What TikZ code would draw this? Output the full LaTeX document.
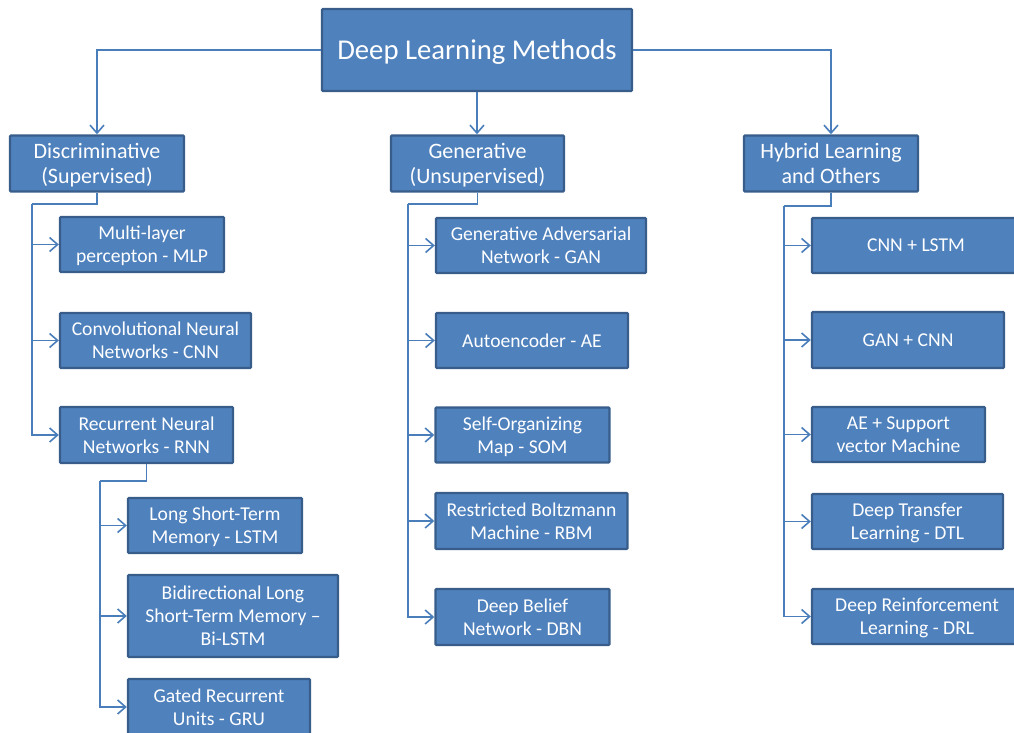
\documentclass[tikz,border=0pt]{standalone}
\usepackage{fontspec}
\setmainfont{Carlito}
\usetikzlibrary{arrows.meta}
\definecolor{boxfill}{HTML}{4F81BD}
\definecolor{boxline}{HTML}{385D8A}
\definecolor{conn}{HTML}{4A7EBB}
\tikzset{
  box/.style={draw=boxline, line width=2.4pt, fill=boxfill, text=white, align=center, inner sep=0pt, rounded corners=1pt, text depth=0pt},
  rootbox/.style={box, font=\fontsize{28.7}{32}\selectfont},
  catbox/.style={box, minimum height=56pt, font=\fontsize{22}{25.5}\selectfont},
  leafbox/.style={box, font=\fontsize{19.6}{23}\selectfont},
  link/.style={draw=conn, line width=1.6pt},
  arrowlink/.style={link, -{Straight Barb[length=8pt, width=14pt, line width=1.6pt]}}
}
\begin{document}
\begin{tikzpicture}[x=1pt, y=-1pt]
\useasboundingbox (0,0) rectangle (1014,733);
\clip (0,0) rectangle (1014,733);

% root
\node[rootbox, minimum width=310pt, minimum height=82pt] (root) at (477,50) {Deep Learning Methods};

% categories
\node[catbox, minimum width=174pt] (disc) at (97,163.5) {Discriminative\\(Supervised)};
\node[catbox, minimum width=173pt] (gen) at (477.5,163.5) {Generative\\(Unsupervised)};
\node[catbox, minimum width=174pt] (hyb) at (831,163.5) {Hybrid Learning\\and Others};

\draw[arrowlink] (root.west) -| (disc.north);
\draw[arrowlink] (root.south) -- (root.south |- gen.north);
\draw[arrowlink] (root.east) -| (hyb.north);

% discriminative children
\node[leafbox, minimum width=164pt, minimum height=55pt] (mlp) at (142,244.5) {Multi-layer\\percepton - MLP};
\node[leafbox, minimum width=191pt, minimum height=55pt] (cnn) at (155.5,340.5) {Convolutional Neural\\Networks - CNN};
\node[leafbox, minimum width=173pt, minimum height=56pt] (rnn) at (146.5,435) {Recurrent Neural\\Networks - RNN};

\coordinate (d0) at (32,204);
\draw[link] (disc.south) |- (d0);
\draw[arrowlink] (d0) |- (mlp.west);
\draw[arrowlink] (d0) |- (cnn.west);
\draw[arrowlink] (d0) |- (rnn.west);

% RNN children
\node[leafbox, minimum width=174pt, minimum height=55pt] (lstm) at (215,525.5) {Long Short-Term\\Memory - LSTM};
\node[leafbox, minimum width=210pt, minimum height=82pt] (bilstm) at (233,616) {Bidirectional Long\\Short-Term Memory –\\Bi-LSTM};
\node[leafbox, minimum width=182pt, minimum height=56pt] (gru) at (219,707) {Gated Recurrent\\Units - GRU};

\coordinate (r0) at (100,481);
\draw[link] (rnn.south) |- (r0);
\draw[arrowlink] (r0) |- (lstm.west);
\draw[arrowlink] (r0) |- (bilstm.west);
\draw[arrowlink] (r0) |- (gru.west);

% generative children
\node[leafbox, minimum width=210pt, minimum height=55pt] (gan) at (541,245.5) {Generative Adversarial\\Network - GAN};
\node[leafbox, minimum width=192pt, minimum height=55pt] (ae) at (532,340.5) {Autoencoder - AE};
\node[leafbox, minimum width=174pt, minimum height=55pt] (som) at (522.5,435) {Self-Organizing\\Map - SOM};
\node[leafbox, minimum width=192pt, minimum height=56pt] (rbm) at (531.5,521) {Restricted Boltzmann\\Machine - RBM};
\node[leafbox, minimum width=174pt, minimum height=56pt] (dbn) at (522.5,617) {Deep Belief\\Network - DBN};

\coordinate (g0) at (408,204);
\draw[link] (gen.south) |- (g0);
\draw[arrowlink] (g0) |- (gan.west);
\draw[arrowlink] (g0) |- (ae.west);
\draw[arrowlink] (g0) |- (som.west);
\draw[arrowlink] (g0) |- (rbm.west);
\draw[arrowlink] (g0) |- (dbn.west);

% hybrid children
\node[leafbox, minimum width=208pt, minimum height=55pt] (cnnlstm) at (916,245.5) {CNN + LSTM};
\node[leafbox, minimum width=192pt, minimum height=56pt] (gancnn) at (908,340) {GAN + CNN};
\node[leafbox, minimum width=173pt, minimum height=55pt] (aesvm) at (898.5,434.5) {AE + Support\\vector Machine};
\node[leafbox, minimum width=191pt, minimum height=55pt] (dtl) at (907.5,521.5) {Deep Transfer\\Learning - DTL};
\node[leafbox, minimum width=210pt, minimum height=55pt] (drl) at (917,616.5) {Deep Reinforcement\\Learning - DRL};

\coordinate (h0) at (784,206);
\draw[link] (hyb.south) |- (h0);
\draw[arrowlink] (h0) |- (cnnlstm.west);
\draw[arrowlink] (h0) |- (gancnn.west);
\draw[arrowlink] (h0) |- (aesvm.west);
\draw[arrowlink] (h0) |- (dtl.west);
\draw[arrowlink] (h0) |- (drl.west);
\end{tikzpicture}
\end{document}
